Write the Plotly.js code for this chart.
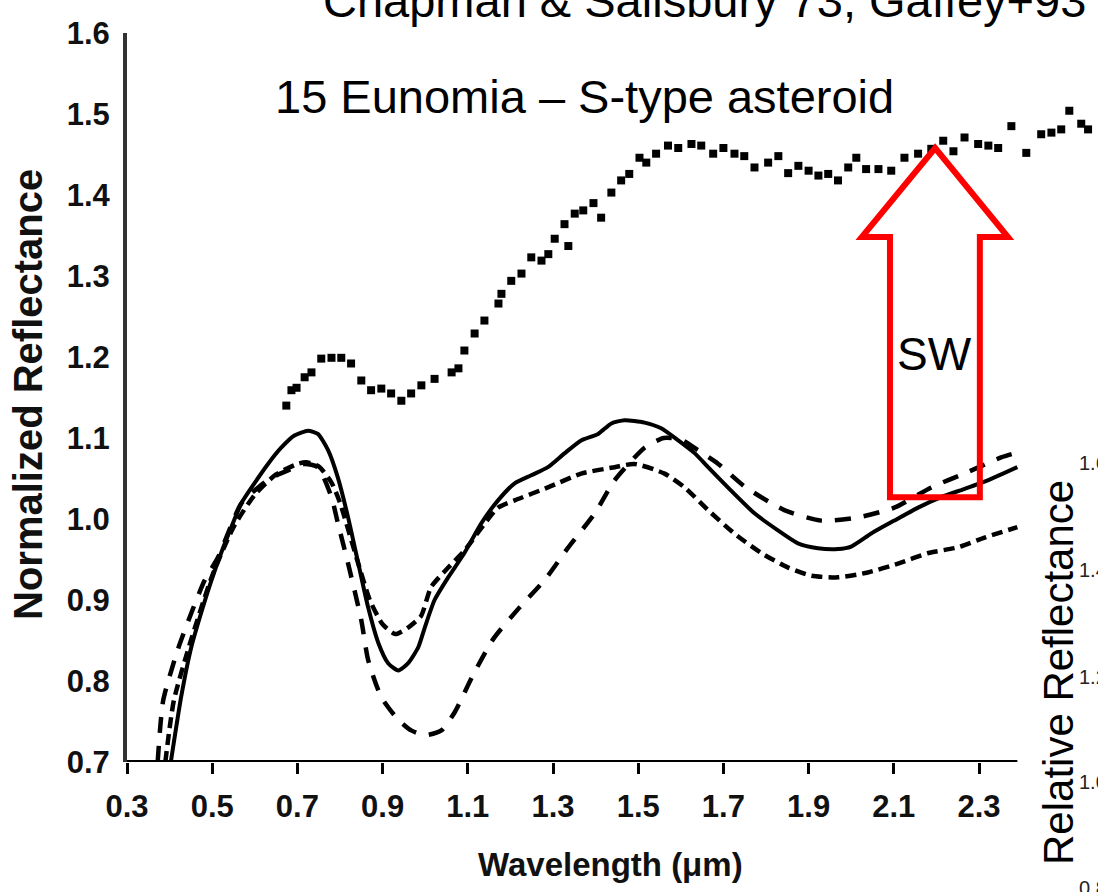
<!DOCTYPE html>
<html>
<head>
<meta charset="utf-8">
<script src="https://cdn.plot.ly/plotly-3.0.1.min.js"></script>
<style>html,body{margin:0;padding:0;background:#fff;}#chart{width:1098px;height:892px;}</style>
</head>
<body>
<div id="chart"></div>
<script>
// ---- data ----
const eunomiaX = [0.674,0.686,0.698,0.717,0.733,0.756,0.780,0.803,0.826,0.850,0.873,0.897,0.920,0.944,0.967,0.991,1.022,1.062,1.078,1.092,1.116,1.139,1.172,1.179,1.202,1.226,1.249,1.273,1.289,1.304,1.327,1.336,1.351,1.371,1.395,1.413,1.437,1.460,1.479,1.503,1.519,1.542,1.570,1.594,1.625,1.648,1.676,1.700,1.726,1.749,1.773,1.805,1.829,1.852,1.876,1.900,1.923,1.946,1.969,1.993,2.012,2.035,2.064,2.094,2.125,2.157,2.188,2.216,2.240,2.266,2.298,2.322,2.345,2.376,2.411,2.446,2.470,2.493,2.512,2.540,2.556];
const eunomiaY = [1.140,1.159,1.162,1.175,1.181,1.198,1.199,1.199,1.192,1.171,1.159,1.161,1.155,1.146,1.155,1.165,1.173,1.181,1.186,1.208,1.229,1.245,1.266,1.278,1.294,1.303,1.323,1.319,1.327,1.346,1.364,1.337,1.377,1.381,1.390,1.372,1.403,1.418,1.426,1.446,1.440,1.451,1.461,1.458,1.463,1.461,1.451,1.458,1.451,1.448,1.434,1.440,1.448,1.427,1.436,1.430,1.424,1.426,1.418,1.434,1.446,1.432,1.432,1.430,1.446,1.451,1.457,1.467,1.454,1.471,1.463,1.461,1.458,1.485,1.452,1.475,1.477,1.481,1.504,1.488,1.481];

const solidX = [0.400,0.427,0.451,0.474,0.498,0.521,0.545,0.568,0.599,0.631,0.662,0.693,0.725,0.748,0.772,0.795,0.819,0.843,0.866,0.890,0.913,0.937,0.960,0.984,0.999,1.022,1.054,1.092,1.132,1.171,1.210,1.249,1.288,1.327,1.366,1.406,1.437,1.468,1.515,1.554,1.594,1.633,1.664,1.718,1.773,1.828,1.875,1.922,1.969,2.000,2.047,2.101,2.157,2.211,2.265,2.322,2.390];
const solidY = [0.690,0.780,0.842,0.884,0.924,0.958,0.990,1.019,1.044,1.068,1.088,1.103,1.109,1.105,1.085,1.051,1.002,0.945,0.891,0.847,0.822,0.813,0.822,0.842,0.866,0.900,0.928,0.958,0.995,1.023,1.044,1.054,1.064,1.081,1.097,1.105,1.118,1.122,1.119,1.112,1.097,1.081,1.064,1.035,1.007,0.986,0.970,0.964,0.963,0.966,0.982,0.998,1.014,1.027,1.037,1.048,1.064];

const longDashX = [0.372,0.385,0.420,0.451,0.482,0.514,0.568,0.608,0.639,0.678,0.717,0.748,0.780,0.795,0.819,0.850,0.866,0.897,0.937,0.967,1.000,1.038,1.070,1.110,1.160,1.220,1.281,1.336,1.398,1.445,1.515,1.560,1.600,1.640,1.688,1.750,1.843,1.930,2.016,2.101,2.188,2.265,2.352,2.390];
const longDashY = [0.700,0.776,0.840,0.884,0.924,0.953,1.019,1.039,1.051,1.060,1.068,1.064,1.027,0.995,0.945,0.875,0.826,0.780,0.752,0.739,0.733,0.739,0.762,0.805,0.852,0.890,0.925,0.965,1.007,1.048,1.088,1.100,1.098,1.085,1.068,1.040,1.011,0.998,1.002,1.014,1.039,1.056,1.076,1.082];

const shortDashX = [0.390,0.410,0.450,0.500,0.550,0.600,0.650,0.700,0.720,0.750,0.780,0.800,0.840,0.870,0.900,0.930,0.960,0.990,1.014,1.054,1.092,1.171,1.210,1.288,1.366,1.445,1.491,1.562,1.609,1.664,1.726,1.789,1.852,1.906,1.969,2.039,2.110,2.181,2.251,2.313,2.390];
const shortDashY = [0.700,0.776,0.850,0.930,0.990,1.030,1.055,1.068,1.070,1.065,1.045,1.020,0.950,0.900,0.870,0.858,0.866,0.880,0.916,0.940,0.961,1.014,1.023,1.039,1.056,1.064,1.068,1.056,1.039,1.011,0.982,0.958,0.940,0.930,0.928,0.934,0.945,0.958,0.965,0.977,0.990];

const majorTicks = [0.3,0.5,0.7,0.9,1.1,1.3,1.5,1.7,1.9,2.1,2.3];
const majorTickText = ["0.3","0.5","0.7","0.9","1.1","1.3","1.5","1.7","1.9","2.1","2.3"];
const minorTicks = [0.3,0.4,0.5,0.6,0.7,0.8,0.9,1.0,1.1,1.2,1.3,1.4,1.5,1.6,1.7,1.8,1.9,2.0,2.1,2.2,2.3];
const yTicks = [0.7,0.8,0.9,1.0,1.1,1.2,1.3,1.4,1.5,1.6];
const yTickText = ["0.7","0.8","0.9","1.0","1.1","1.2","1.3","1.4","1.5","1.6"];
const rightPanelTicks = ["1.6","1.4","1.2","1.0","0.8"];

// SW arrow outline (data coordinates of the annotation arrow)
const arrowX = [2.197,2.368,2.302,2.302,2.091,2.091,2.025];
const arrowY = [1.458,1.348,1.348,1.027,1.027,1.348,1.348];

// ---- layout ----
const BOLD = "'Liberation Sans',Arial,sans-serif";
const SANS = "'Liberation Sans',Arial,sans-serif";
const L = 127, T = 33, W = 1098, H = 892, B = 892 - 762;
const plotW = W - L;
const pxPerUnit = 426;
const xRange = [0.3, 0.3 + plotW / pxPerUnit];
const xEnd = 2.39;

function px(p) { return (p - L) / plotW; }
function py(p) { return (762 - p) / (762 - T); }

const traces = [
  {x: solidX, y: solidY, mode: 'lines', line: {color: '#000', width: 4, shape: 'spline', smoothing: 0.6}, hoverinfo: 'skip'},
  {x: longDashX, y: longDashY, mode: 'lines', line: {color: '#000', width: 4.5, dash: '16px,13px', shape: 'spline', smoothing: 0.6}, hoverinfo: 'skip'},
  {x: shortDashX, y: shortDashY, mode: 'lines', line: {color: '#000', width: 4.5, dash: '11px,6px', shape: 'spline', smoothing: 0.6}, hoverinfo: 'skip'},
  {x: eunomiaX, y: eunomiaY, mode: 'markers', marker: {symbol: 'square', size: 8, color: '#000'}, hoverinfo: 'skip'}
];

let arrowPath = 'M ' + arrowX.map((v, i) => v + ',' + arrowY[i]).join(' L ') + ' Z';

const tickFont = {family: BOLD, size: 31, color: '#111', weight: 'bold'};

const layout = {
  width: W, height: H,
  margin: {l: L, r: 0, t: T, b: B, pad: 0},
  paper_bgcolor: '#fff', plot_bgcolor: '#fff',
  showlegend: false,
  xaxis: {
    range: xRange, showgrid: false, zeroline: false, showline: false,
    tickmode: 'array', tickvals: majorTicks, ticktext: majorTickText,
    ticks: 'outside', ticklen: 11, tickwidth: 3, tickcolor: '#000',
    tickfont: tickFont, ticklabelstandoff: 6
  },
  xaxis2: {
    overlaying: 'x', anchor: 'y', side: 'bottom', range: xRange,
    showgrid: false, zeroline: false, showline: false,
    tickmode: 'array', tickvals: minorTicks, ticks: 'inside', ticklen: 12, tickwidth: 3, tickcolor: '#000',
    showticklabels: false
  },
  xaxis3: {
    overlaying: 'x', anchor: 'y', side: 'top', range: xRange,
    showgrid: false, zeroline: false, showline: true, linecolor: '#222', linewidth: 4,
    ticks: '', showticklabels: false
  },
  yaxis: {
    range: [0.7, 1.6], showgrid: false, zeroline: false,
    showline: true, linecolor: '#333', linewidth: 4,
    tickmode: 'array', tickvals: yTicks, ticktext: yTickText, ticks: '',
    tickfont: tickFont, ticklabelstandoff: 7
  },
  shapes: [
    {type: 'line', xref: 'x', yref: 'y', x0: 0.3, x1: xEnd, y0: 0.7, y1: 0.7, line: {color: '#000', width: 4}, layer: 'above'},
    {type: 'path', xref: 'x', yref: 'y', path: arrowPath, line: {color: '#ff0000', width: 6}, fillcolor: 'rgba(0,0,0,0)', layer: 'above'}
  ],
  annotations: [
    {text: 'Chapman &amp; Salisbury 73, Gaffey+93', xref: 'paper', yref: 'paper', x: px(321), y: py(0.7), xanchor: 'left', yanchor: 'middle', showarrow: false, font: {family: SANS, size: 47, color: '#000'}},
    {text: '15 Eunomia – S-type asteroid', xref: 'paper', yref: 'paper', x: px(273), y: py(96.7), xanchor: 'left', yanchor: 'middle', showarrow: false, font: {family: SANS, size: 47, color: '#000'}},
    {text: 'SW', xref: 'paper', yref: 'paper', x: px(934.5), y: py(354), xanchor: 'center', yanchor: 'middle', showarrow: false, font: {family: SANS, size: 46, color: '#000'}},
    {text: 'Wavelength (μm)', xref: 'paper', yref: 'paper', x: px(610), y: py(864), xanchor: 'center', yanchor: 'middle', showarrow: false, font: {family: BOLD, size: 33, color: '#111', weight: 'bold'}},
    {text: 'Normalized Reflectance', xref: 'paper', yref: 'paper', x: px(28), y: py(395), xanchor: 'center', yanchor: 'middle', textangle: -90, showarrow: false, font: {family: BOLD, size: 40, color: '#111', weight: 'bold'}},
    {text: 'Relative Reflectance', xref: 'paper', yref: 'paper', x: px(1058), y: py(673), xanchor: 'center', yanchor: 'middle', textangle: -90, showarrow: false, font: {family: SANS, size: 42, color: '#000'}}
  ]
};

const rightY = [463, 570, 677, 782, 888];
rightPanelTicks.forEach((t, i) => {
  layout.annotations.push({text: t, xref: 'paper', yref: 'paper', x: px(1077), y: py(rightY[i]), xanchor: 'left', yanchor: 'middle', showarrow: false, font: {family: SANS, size: 20, color: '#222'}});
});

Plotly.newPlot('chart', traces, layout, {staticPlot: true, displayModeBar: false});
</script>
</body>
</html>
